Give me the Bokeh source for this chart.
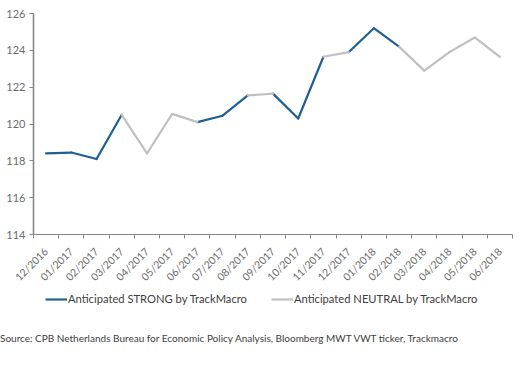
import math
from bokeh.plotting import figure
from bokeh.layouts import column
from bokeh.models import (Range1d, FixedTicker, Legend, LegendItem, Div,
                          ColumnDataSource)
from bokeh.embed import file_html
from bokeh.resources import INLINE

# ---- data ----
months = ["12/2016", "01/2017", "02/2017", "03/2017", "04/2017", "05/2017",
          "06/2017", "07/2017", "08/2017", "09/2017", "10/2017", "11/2017",
          "12/2017", "01/2018", "02/2018", "03/2018", "04/2018", "05/2018",
          "06/2018"]
index_values = [118.4, 118.45, 118.1, 120.5, 118.4, 120.55,
                120.1, 120.45, 121.55, 121.65, 120.3, 123.65,
                123.9, 125.2, 124.2, 122.9, 123.9, 124.7,
                123.65]
# regime of the segment that ends at each month (first month has no segment)
regime = [None, "STRONG", "STRONG", "STRONG", "NEUTRAL", "NEUTRAL",
          "NEUTRAL", "STRONG", "STRONG", "NEUTRAL", "STRONG", "STRONG",
          "NEUTRAL", "STRONG", "STRONG", "NEUTRAL", "NEUTRAL", "NEUTRAL",
          "NEUTRAL"]
y_ticks = [114, 116, 118, 120, 122, 124, 126]
legend_labels = {"STRONG": "Anticipated STRONG by TrackMacro",
                 "NEUTRAL": "Anticipated NEUTRAL by TrackMacro"}
colors = {"STRONG": "#1F5F96", "NEUTRAL": "#C0C0C0"}
source_text = ("Source: CPB Netherlands Bureau for Economic Policy Analysis, "
               "Bloomberg MWT VWT ticker, Trackmacro")

FONT = "Lato"
n = len(months)
centers = [i + 0.5 for i in range(n)]

p = figure(width=532, height=290,
           output_backend="svg", toolbar_location=None,
           x_range=Range1d(0, n), y_range=Range1d(114, 126),
           min_border_left=33, min_border_right=20, min_border_top=13,
           min_border_bottom=56)
p.outline_line_color = None
p.grid.grid_line_color = None
p.background_fill_color = "white"
p.border_fill_color = "white"

# segments per regime
for key in ["STRONG", "NEUTRAL"]:
    x0, y0, x1, y1 = [], [], [], []
    for i in range(1, n):
        if regime[i] == key:
            x0.append(centers[i - 1]); y0.append(index_values[i - 1])
            x1.append(centers[i]); y1.append(index_values[i])
    src = ColumnDataSource(dict(x0=x0, y0=y0, x1=x1, y1=y1))
    p.segment("x0", "y0", "x1", "y1", source=src,
              line_color=colors[key], line_width=2.2, line_cap="round")

# x axis: labels at centers, ticks at boundaries (minor ticks)
xa = p.xaxis[0]
xa.ticker = FixedTicker(ticks=centers, minor_ticks=list(range(n + 1)))
xa.major_label_overrides = {c: m for c, m in zip(centers, months)}
xa.major_label_orientation = math.pi / 4
xa.major_tick_out = 0
xa.major_tick_in = 0
xa.minor_tick_out = 4
xa.minor_tick_in = 0
xa.minor_tick_line_color = "#868686"
xa.axis_line_color = "#868686"
xa.axis_line_width = 1.2
xa.major_label_text_font = FONT
xa.major_label_text_font_size = "10.5px"
xa.major_label_text_color = "#6B6B6B"
xa.major_label_standoff = 11

ya = p.yaxis[0]
ya.ticker = FixedTicker(ticks=y_ticks)
ya.major_tick_out = 4
ya.major_tick_in = 0
ya.minor_tick_out = 0
ya.minor_tick_in = 0
ya.axis_line_color = "#868686"
ya.axis_line_width = 1.6
ya.major_tick_line_color = "#868686"
ya.major_label_text_font = FONT
ya.major_label_text_font_size = "11px"
ya.major_label_text_color = "#6B6B6B"
ya.major_label_standoff = 4

# ---- legend strip ----
q = figure(width=532, height=30, output_backend="svg", toolbar_location=None,
           x_axis_type=None, y_axis_type=None,
           x_range=Range1d(0, 1), y_range=Range1d(0, 1),
           min_border=0, min_border_left=0, min_border_right=0,
           min_border_top=0, min_border_bottom=0)
q.grid.visible = False
q.outline_line_color = None
q.background_fill_color = "white"
q.border_fill_color = "white"

nan = float("nan")
items = []
for key in ["STRONG", "NEUTRAL"]:
    r = q.line(x=[nan, nan], y=[nan, nan], line_color=colors[key],
               line_width=2.2)
    items.append(LegendItem(label=legend_labels[key], renderers=[r]))

legend = Legend(items=items, orientation="horizontal", location=(12, 15),
                label_text_font=FONT, label_text_font_size="11.2px",
                label_text_color="#404040", glyph_width=22, glyph_height=12,
                label_standoff=1, spacing=24, padding=0, margin=0,
                label_height=12, border_line_color=None,
                background_fill_alpha=0)
q.add_layout(legend, "center")

# ---- source note ----
note = Div(text=source_text, width=532, height=46,
           styles={"font-family": "Lato", "font-size": "10px",
                   "color": "#404040", "padding-top": "12px",
                   "padding-left": "0px", "margin": "0px",
                   "line-height": "12px", "white-space": "nowrap"})

open("out.html", "w").write(file_html(column(p, q, note, spacing=0), INLINE))
